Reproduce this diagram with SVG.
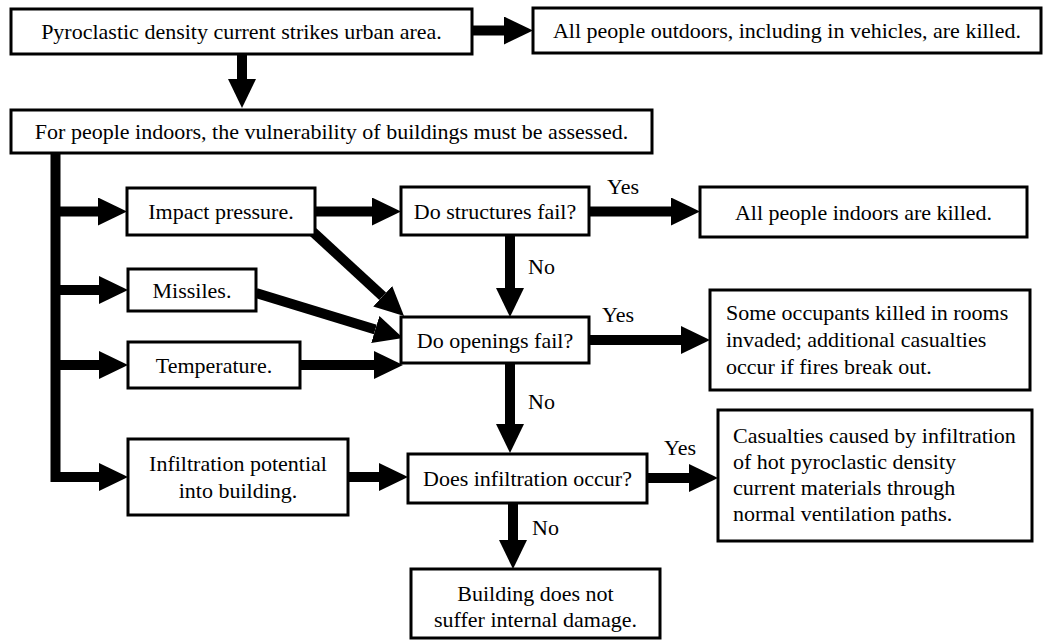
<svg xmlns="http://www.w3.org/2000/svg" width="1043" height="641" viewBox="0 0 1043 641">
<style>
.box{fill:#fff;stroke:#000;stroke-width:3}
text{font-family:'Liberation Serif','Times New Roman',serif;font-size:22px;fill:#000}
.c{text-anchor:middle}
.con{fill:none;stroke:#000;stroke-width:10;stroke-linejoin:miter}
.ar{marker-end:url(#ah)}
</style>
<defs>
<marker id="ah" markerUnits="userSpaceOnUse" markerWidth="29" markerHeight="28" refX="0" refY="14" orient="auto" viewBox="0 0 29 28"><path d="M0,0 L29,14 L0,28 z" fill="#000"/></marker>
</defs>
<rect width="1043" height="641" fill="#fff"/>
<g id="connectors">
<path class="con ar" d="M472,30.5 H504"/>
<path class="con ar" d="M242,54 V79"/>
<path class="con ar" d="M55.5,153 V477 H99"/>
<path class="con ar" d="M55.5,211.5 H98"/>
<path class="con ar" d="M55.5,290 H99"/>
<path class="con ar" d="M55.5,365 H99"/>
<path class="con ar" d="M315,211.5 H372"/>
<path class="con ar" d="M313,232 L382.7,296.3"/>
<path class="con ar" d="M256,293 L375.3,329.5"/>
<path class="con ar" d="M300,365 H374"/>
<path class="con ar" d="M348,477 H379"/>
<path class="con ar" d="M589,211.5 H671"/>
<path class="con ar" d="M589,340 H681"/>
<path class="con ar" d="M647,478 H689"/>
<path class="con ar" d="M510,235 V288"/>
<path class="con ar" d="M510,363 V424"/>
<path class="con ar" d="M513,503 V540"/>
<text x="607" y="194">Yes</text>
<text x="602" y="322">Yes</text>
<text x="664" y="455">Yes</text>
<text x="528" y="274">No</text>
<text x="528" y="409">No</text>
<text x="532" y="535">No</text>
</g>
<g id="nodes">
<g id="n1"><rect class="box" x="11" y="9" width="461" height="45"/><text class="c" x="241.5" y="39">Pyroclastic density current strikes urban area.</text></g>
<g id="n2"><rect class="box" x="533" y="8" width="508" height="45"/><text class="c" x="787" y="38">All people outdoors, including in vehicles, are killed.</text></g>
<g id="n3"><rect class="box" x="11" y="110" width="641" height="43"/><text class="c" x="331.5" y="139">For people indoors, the vulnerability of buildings must be assessed.</text></g>
<g id="n4"><rect class="box" x="127" y="188" width="188" height="47"/><text class="c" x="221" y="219">Impact pressure.</text></g>
<g id="n5"><rect class="box" x="128" y="269" width="128" height="42"/><text class="c" x="192" y="298">Missiles.</text></g>
<g id="n6"><rect class="box" x="128" y="342" width="172" height="46"/><text class="c" x="214" y="373">Temperature.</text></g>
<g id="n7"><rect class="box" x="128" y="439" width="220" height="76"/><text class="c" x="238" y="471">Infiltration potential</text><text class="c" x="238" y="498">into building.</text></g>
<g id="n8"><rect class="box" x="401" y="187" width="188" height="48"/><text class="c" x="495" y="219">Do structures fail?</text></g>
<g id="n9"><rect class="box" x="700" y="187" width="327" height="50"/><text class="c" x="863.5" y="220">All people indoors are killed.</text></g>
<g id="n10"><rect class="box" x="401" y="317" width="188" height="46"/><text class="c" x="495" y="348">Do openings fail?</text></g>
<g id="n11"><rect class="box" x="710" y="290" width="320" height="100"/><text x="726" y="320">Some occupants killed in rooms</text><text x="726" y="347">invaded; additional casualties</text><text x="726" y="374">occur if fires break out.</text></g>
<g id="n12"><rect class="box" x="408" y="454" width="239" height="49"/><text class="c" x="527.5" y="486">Does infiltration occur?</text></g>
<g id="n13"><rect class="box" x="718" y="410" width="314" height="131"/><text x="733" y="443">Casualties caused by infiltration</text><text x="733" y="469">of hot pyroclastic density</text><text x="733" y="495">current materials through</text><text x="733" y="521">normal ventilation paths.</text></g>
<g id="n14"><rect class="box" x="411" y="569" width="249" height="69"/><text class="c" x="535.5" y="601">Building does not</text><text class="c" x="535.5" y="627">suffer internal damage.</text></g>
</g>
</svg>
